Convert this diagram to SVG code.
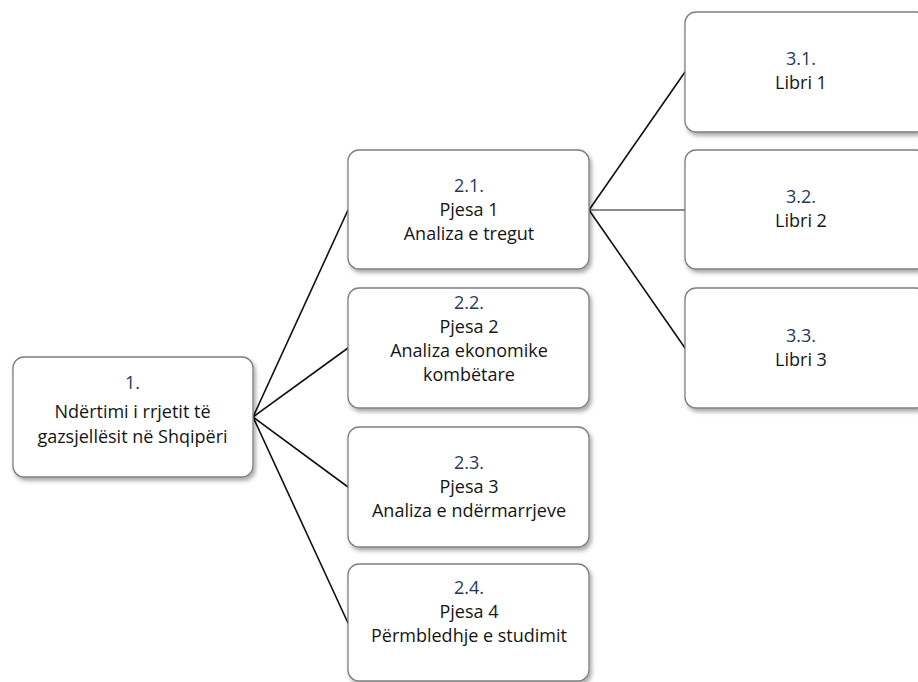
<svg xmlns="http://www.w3.org/2000/svg" width="918" height="682" viewBox="0 0 918 682">
  <defs>
    <filter id="sh" x="-10%" y="-10%" width="130%" height="130%">
      <feDropShadow dx="2" dy="3" stdDeviation="2" flood-color="#000" flood-opacity="0.35"/>
    </filter>
    <style>
      .box { fill: #ffffff; stroke: #7f7f7f; stroke-width: 1.3; filter: url(#sh); }
      .t { font-family: "Open Sans", "Noto Sans", sans-serif; font-size: 18px; fill: #151515; text-anchor: middle; }
      .n { fill: #1f3a60; }
      .c { stroke: #111; stroke-width: 1.6; fill: none; stroke-linecap: round; }
    </style>
  </defs>
  <rect width="918" height="682" fill="#ffffff"/>

  <g id="connectors">
    <line class="c" x1="253" y1="417" x2="348" y2="210"/>
    <line class="c" x1="253" y1="417" x2="348" y2="348"/>
    <line class="c" x1="253" y1="417" x2="348" y2="487"/>
    <line class="c" x1="253" y1="417" x2="348" y2="623"/>
    <line class="c" x1="589" y1="210" x2="685" y2="72"/>
    <line class="c" x1="589" y1="210" x2="685" y2="210" style="stroke:#666"/>
    <line class="c" x1="589" y1="210" x2="685" y2="348"/>
  </g>

  <g id="node-1">
    <rect class="box" x="13" y="357" width="240" height="120" rx="11"/>
    <text class="t n" x="132.5" y="389">1.</text>
    <text class="t" x="132.5" y="418">Ndërtimi i rrjetit të</text>
    <text class="t" x="132.5" y="443">gazsjellësit në Shqipëri</text>
  </g>

  <g id="node-2-1">
    <rect class="box" x="348" y="150" width="241" height="119" rx="11"/>
    <text class="t n" x="469" y="192">2.1.</text>
    <text class="t" x="469" y="216">Pjesa 1</text>
    <text class="t" x="469" y="240">Analiza e tregut</text>
  </g>

  <g id="node-2-2">
    <rect class="box" x="348" y="288" width="241" height="120" rx="11"/>
    <text class="t n" x="469" y="309">2.2.</text>
    <text class="t" x="469" y="333">Pjesa 2</text>
    <text class="t" x="469" y="357">Analiza ekonomike</text>
    <text class="t" x="469" y="381">kombëtare</text>
  </g>

  <g id="node-2-3">
    <rect class="box" x="348" y="427" width="241" height="120" rx="11"/>
    <text class="t n" x="469" y="469">2.3.</text>
    <text class="t" x="469" y="493">Pjesa 3</text>
    <text class="t" x="469" y="517">Analiza e ndërmarrjeve</text>
  </g>

  <g id="node-2-4">
    <rect class="box" x="348" y="564" width="241" height="117" rx="11"/>
    <text class="t n" x="469" y="594">2.4.</text>
    <text class="t" x="469" y="618">Pjesa 4</text>
    <text class="t" x="469" y="642">Përmbledhje e studimit</text>
  </g>

  <g id="node-3-1">
    <rect class="box" x="685" y="12" width="242" height="120" rx="11"/>
    <text class="t n" x="801" y="65">3.1.</text>
    <text class="t" x="801" y="89">Libri 1</text>
  </g>

  <g id="node-3-2">
    <rect class="box" x="685" y="150" width="242" height="119" rx="11"/>
    <text class="t n" x="801" y="203">3.2.</text>
    <text class="t" x="801" y="227">Libri 2</text>
  </g>

  <g id="node-3-3">
    <rect class="box" x="685" y="288" width="242" height="120" rx="11"/>
    <text class="t n" x="801" y="342">3.3.</text>
    <text class="t" x="801" y="366">Libri 3</text>
  </g>
</svg>
